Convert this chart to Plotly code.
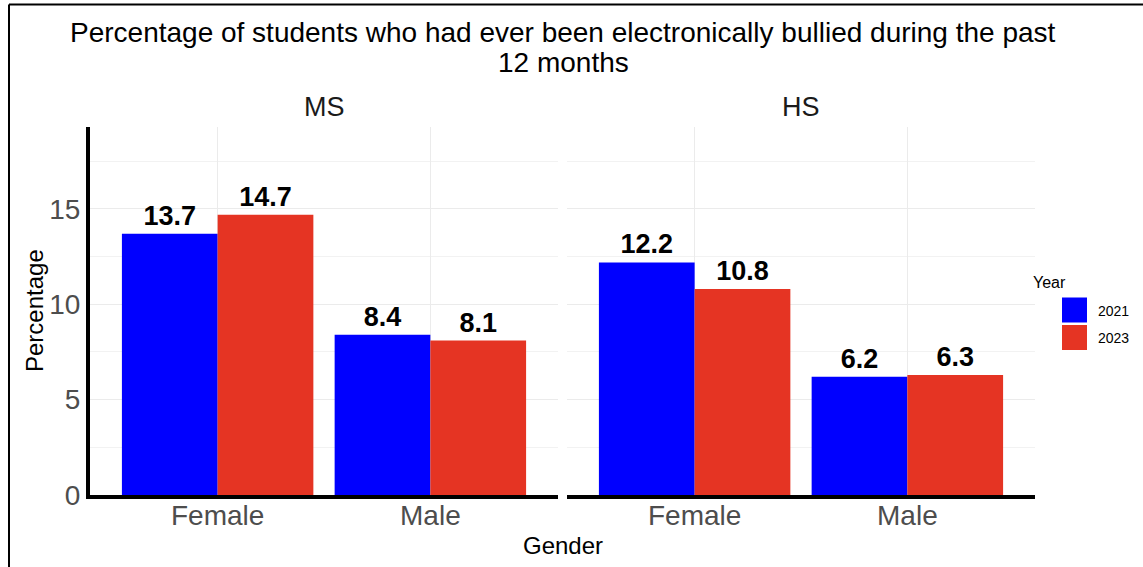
import plotly.graph_objects as go

# ---- data ----
levels = ["MS", "HS"]
genders = ["Female", "Male"]
years = ["2021", "2023"]
ms_2021 = [13.7, 8.4]
ms_2023 = [14.7, 8.1]
hs_2021 = [12.2, 6.2]
hs_2023 = [10.8, 6.3]
year_colors = ["#0000FF", "#E53423"]

# reference geometry is 1143x567; the capture maps ~583 page rows onto 567,
# so the figure is laid out 583 tall with positions given as fractions of 567.
W, RH, H = 1143, 567, 583
def px(x): return x / W
def py(y): return 1 - y / RH

FONT = "Liberation Sans, Arial, Helvetica, sans-serif"

fig = go.Figure()
series = {"MS": [ms_2021, ms_2023], "HS": [hs_2021, hs_2023]}
for li, lev in enumerate(levels):
    xa = "x" if li == 0 else "x2"
    ya = "y" if li == 0 else "y2"
    for yi, yr in enumerate(years):
        vals = series[lev][yi]
        fig.add_trace(go.Bar(
            x=genders, y=vals, name=yr, xaxis=xa, yaxis=ya,
            marker=dict(color=year_colors[yi], line=dict(width=0)),
            text=[f"{v:.1f}" for v in vals], textposition="outside",
            textfont=dict(family=FONT, size=27, color="black", weight="bold"),
            cliponaxis=False, showlegend=False, offsetgroup=yr,
        ))

yd = [py(495), py(127)]
common_x = dict(
    type="category", range=[-0.6, 1.6], showline=True, linecolor="black", linewidth=4,
    showgrid=True, gridcolor="#EBEBEB", gridwidth=1, ticks="", zeroline=False,
    tickfont=dict(family=FONT, size=28, color="#4D4D4D"), fixedrange=True,
    ticklabelstandoff=-8,
)
common_y = dict(
    range=[0, 19.3], dtick=5, showgrid=True, gridcolor="#EBEBEB", gridwidth=1,
    minor=dict(dtick=2.5, showgrid=True, gridcolor="#F2F2F2", gridwidth=1),
    zeroline=False, ticks="", domain=yd, fixedrange=True,
)
fig.update_layout(
    width=W, height=H, autosize=False, margin=dict(l=0, r=0, t=0, b=0),
    paper_bgcolor="white", plot_bgcolor="white",
    barmode="group", bargap=0.1, bargroupgap=0,
    font=dict(family=FONT, color="black"),
    xaxis=dict(domain=[px(90), px(558)], anchor="y", **common_x),
    xaxis2=dict(domain=[px(567), px(1035)], anchor="y2", **common_x),
    yaxis=dict(anchor="x", showline=True, linecolor="black", linewidth=4,
               tickfont=dict(family=FONT, size=28, color="#4D4D4D"), **common_y),
    yaxis2=dict(anchor="x2", showline=False, showticklabels=False, **common_y),
    showlegend=False,
)

def ann(text, x, y, size, color="black", angle=0, xanchor="center"):
    return dict(text=text, x=px(x), y=py(y), xref="paper", yref="paper", showarrow=False,
                xanchor=xanchor, yanchor="middle", textangle=angle,
                font=dict(family=FONT, size=size, color=color), align="center")

annotations = [
    ann("Percentage of students who had ever been electronically bullied during the past", 563, 32, 28),
    ann("12 months", 563, 62, 28),
    ann("MS", 324, 107, 27, "#1A1A1A"),
    ann("HS", 801, 107, 27, "#1A1A1A"),
    ann("Gender", 563, 545, 24),
    ann("Percentage", 34, 311, 24, angle=-90),
    ann("Year", 1031, 282, 16, xanchor="left"),
]
# legend keys (Year)
shapes = []
for i, (yr, col) in enumerate(zip(years, year_colors)):
    top = 297.5 + i * 27.5
    shapes.append(dict(type="rect", xref="paper", yref="paper",
                       x0=px(1062), x1=px(1087), y0=py(top + 25), y1=py(top),
                       fillcolor=col, line=dict(width=0)))
    annotations.append(ann(yr, 1096, top + 13, 14, xanchor="left"))

# outer frame (top and left edges of the original image border)
shapes.append(dict(type="line", xref="paper", yref="paper", x0=px(9), x1=1, y0=py(4.5), y1=py(4.5),
                   line=dict(color="black", width=2)))
shapes.append(dict(type="line", xref="paper", yref="paper", x0=px(9), x1=px(9), y0=py(4.5), y1=0,
                   line=dict(color="black", width=2)))
fig.update_layout(annotations=annotations, shapes=shapes)

fig.write_html("out.html", config={"displayModeBar": False},
               post_script="document.body.style.margin='0';document.body.style.overflow='hidden';")
